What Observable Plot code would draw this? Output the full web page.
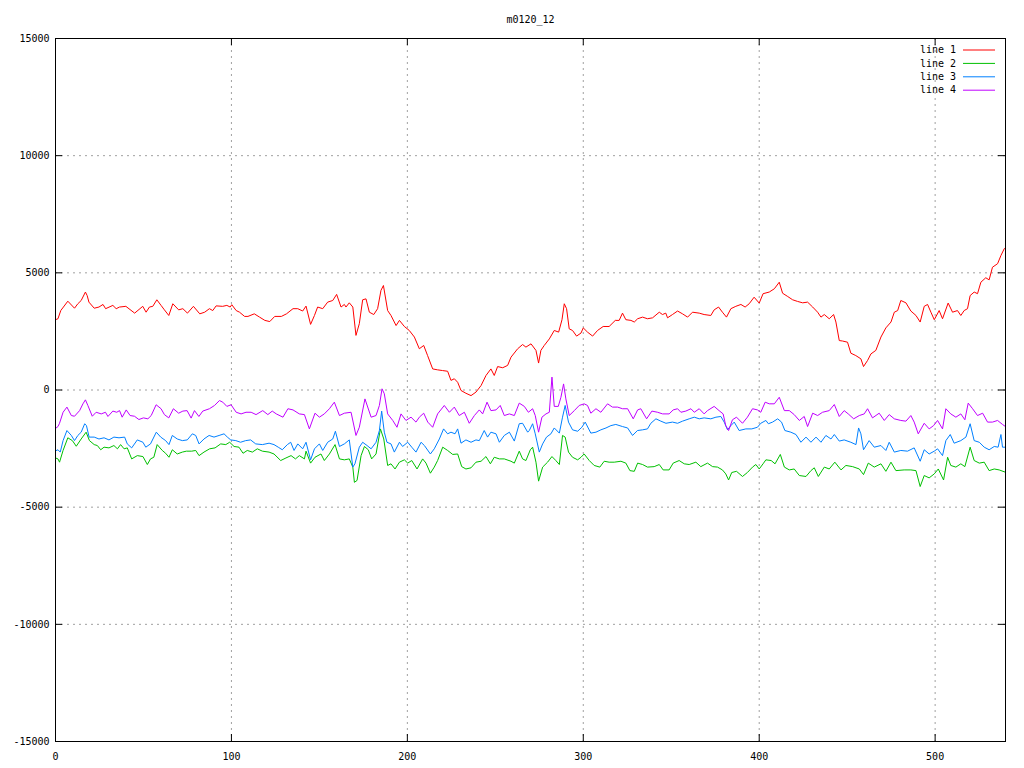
<!DOCTYPE html>
<html><head><meta charset="utf-8">
<script src="https://cdn.jsdelivr.net/npm/d3@7"></script>
<script src="https://cdn.jsdelivr.net/npm/@observablehq/plot@0.6"></script>
<style>
body{margin:0;background:#fff}
#wrap{position:relative;width:1024px;height:768px;background:#fff}
#legend{position:absolute;left:0;top:0}
</style>
</head><body><div id="wrap"></div>
<script>
const title = "m0120_12";
const seriesNames = ["line 1","line 2","line 3","line 4"];
const seriesColors = ["#ff0000","#00c000","#0080ff","#c000ff"];
const xTicks = [0,100,200,300,400,500];
const yTicks = [-15000,-10000,-5000,0,5000,10000,15000];
const xDomain = [0,540];
const yDomain = [-15000,15000];

const line1 = [[0,3000],[1.4,3040],[3,3390],[7,3790],[10.8,3490],[12.7,3680],[14.6,3820],[17,4180],[18,4030],[19,3750],[22,3490],[24.7,3540],[27,3650],[28.5,3470],[32.6,3610],[34.5,3470],[36.4,3540],[40,3570],[45,3280],[49.6,3570],[51.5,3320],[53.4,3540],[55.3,3570],[57.6,3850],[60,3610],[61.9,3420],[64.4,3180],[66.7,3680],[70,3420],[72.4,3470],[75,3280],[78.4,3570],[82,3250],[84.8,3320],[87.5,3470],[89.4,3390],[91.3,3590],[95,3570],[97.4,3610],[99.3,3540],[100.2,3640],[102.7,3390],[104.6,3320],[107.5,3140],[109.4,3140],[113,3250],[116,3110],[119,2970],[121.8,2920],[124.6,3140],[128.4,3140],[131.3,3250],[135,3470],[137.7,3470],[140.5,3370],[142.4,3580],[145,2800],[147.2,3180],[149,3540],[151.9,3470],[154.7,3750],[157.6,3820],[159.8,4080],[162.3,3540],[164.2,3650],[165.1,3540],[167,3720],[169,3540],[170.8,2330],[172.7,2830],[174.6,3850],[176.5,3890],[178.4,3320],[180.9,3220],[183.1,3470],[185,4250],[186.4,4460],[188.8,3390],[190.7,3180],[193.6,2750],[195.5,2970],[198.3,2710],[201.1,2540],[204,2260],[206.8,1760],[209.3,1900],[211.5,1470],[214.4,900],[217.2,860],[220,830],[222.9,800],[224.8,410],[226.7,480],[228.6,330],[230.5,-20],[233.3,-140],[236.2,-240],[239,-90],[241.9,190],[244.7,620],[247.5,900],[249.4,620],[251.3,1000],[254.2,950],[257,1050],[258.9,1400],[262.7,1760],[265.5,1940],[267.4,1830],[270.3,1970],[273.1,1690],[274.6,1150],[275.9,1690],[277.8,1900],[280.7,2180],[283.5,2540],[286,2470],[287.9,3000],[289.2,3680],[290.5,3470],[292,2610],[293.9,2540],[296.2,2300],[298.7,2430],[300,2650],[302.4,2470],[305.3,2300],[308.1,2540],[311.3,2710],[314.7,2710],[318.2,2970],[320.4,2970],[322.3,3280],[324.2,3000],[327.1,2970],[329,2900],[330.9,3040],[333.7,3110],[336.5,3040],[339.4,3080],[343.2,3320],[345,3220],[346.9,3280],[347.9,3080],[350.7,3220],[353.6,3370],[356.4,3250],[359.3,3110],[362.1,3320],[365.9,3280],[368.7,3220],[372.5,3180],[374.4,3420],[376.9,3540],[379.1,3320],[381.4,3110],[383.9,3470],[386.7,3570],[389.6,3650],[392,3540],[394.3,3680],[397.1,3960],[400,3710],[402.2,4110],[405.7,4180],[408.6,4320],[411.4,4600],[413.3,4130],[416.2,3990],[419,3850],[421.8,3780],[424.7,3720],[427.5,3750],[430.4,3540],[433.2,3320],[435.1,3110],[437,3220],[439.8,3040],[442.3,3220],[443.6,2900],[445.5,2110],[447.4,2090],[450.2,2040],[452.1,1570],[454.9,1470],[457.8,1330],[459.3,1000],[461.6,1260],[463.5,1540],[466.3,1690],[469.2,2260],[472,2650],[474.9,2900],[476.8,3320],[478.7,3390],[480.5,3820],[483.4,3720],[486.2,3370],[489.1,3180],[491.5,2900],[493.8,3570],[495.7,3650],[497.6,3320],[499.5,3000],[502.3,3390],[504.2,3040],[507.4,3710],[509.9,3320],[512.7,3390],[514.6,3180],[516.5,3390],[518.4,3470],[519.9,4030],[522.2,4180],[524.1,4110],[526,4600],[528.8,4790],[530.7,4700],[532.6,5240],[535.5,5390],[537.4,5740],[539.3,6030],[540,6080]];

const line2 = [[0,-2900],[1.4,-2940],[2.3,-3080],[4.3,-2580],[7,-2040],[9.6,-2160],[11.8,-2400],[14.6,-2090],[17.4,-1800],[19.3,-2160],[22,-2330],[23.8,-2370],[25.7,-2550],[27.6,-2440],[30.4,-2470],[33.2,-2370],[35.2,-2510],[37,-2330],[39,-2510],[40.8,-2470],[43.3,-2940],[46.5,-2800],[49.7,-2840],[52.2,-3180],[54,-2940],[55.9,-2870],[57.8,-2330],[60.7,-2580],[62.6,-2700],[64.5,-2870],[66.4,-2550],[69.2,-2730],[72.1,-2650],[74.4,-2610],[77.4,-2610],[79.7,-2580],[81.6,-2800],[84.4,-2650],[87.6,-2510],[90.7,-2470],[93.9,-2300],[96.8,-2330],[99,-2230],[101.5,-2410],[104.3,-2440],[106.6,-2700],[109,-2580],[111.9,-2650],[114.7,-2510],[117.6,-2610],[121.4,-2650],[124.2,-2730],[128,-3010],[131,-2900],[133.9,-2800],[136.4,-2940],[138.6,-2800],[141.5,-2940],[142.4,-2610],[145,-3120],[147.5,-2870],[150.9,-2730],[152.8,-3010],[155.7,-2730],[158.9,-2330],[161.4,-2940],[164.2,-2980],[167,-2940],[169,-3290],[169.9,-3940],[171.4,-3860],[173.7,-2800],[175.6,-2410],[177.8,-2550],[179.7,-2940],[182.2,-2730],[184.7,-1660],[186.6,-2090],[188.8,-3220],[190.7,-3150],[193,-3370],[195.5,-3080],[198.3,-2980],[200.2,-3120],[202.5,-3010],[205.5,-3370],[208.7,-2940],[210.6,-3120],[213.1,-3550],[215.3,-3290],[217.2,-3010],[220.1,-2440],[222.9,-2580],[225.8,-2750],[228.6,-2730],[230.9,-3270],[233.3,-3370],[236.2,-3320],[239,-3080],[241.9,-3040],[244.7,-2840],[247.2,-3150],[249.4,-2870],[252.3,-2940],[255.1,-2940],[258.9,-3040],[260.8,-3120],[263.6,-2610],[265.5,-2940],[267.4,-3010],[269.9,-2550],[271.2,-2440],[273.1,-3080],[274.6,-3890],[276.9,-3290],[279.7,-3080],[282.2,-2840],[284.4,-3010],[286.4,-3180],[288.2,-1940],[289.7,-2010],[291.6,-2650],[293.9,-2870],[296.8,-2980],[298.7,-2870],[300.5,-2730],[303.4,-3010],[306.2,-3220],[309.4,-3290],[311.9,-3040],[314.7,-3080],[317.6,-3080],[321.4,-3040],[324.2,-3120],[326.5,-3440],[329,-3470],[330.9,-3120],[333.7,-3180],[336.5,-3290],[340.3,-3270],[343.2,-3180],[345.4,-3410],[348.8,-3410],[351.1,-3120],[354.5,-3010],[357.4,-3150],[360.2,-3180],[364,-3080],[366.8,-3270],[370.6,-3120],[373.5,-3270],[376.3,-3290],[379.1,-3410],[381,-3580],[382.6,-3840],[384.4,-3520],[387.1,-3470],[390.5,-3690],[393.3,-3520],[396.2,-3290],[398.1,-3180],[400,-3370],[402.2,-3150],[403.8,-2980],[406.8,-3010],[409,-3150],[412,-2750],[414.3,-3290],[417.1,-3410],[419.9,-3370],[422.8,-3650],[426.6,-3690],[429.4,-3440],[431.3,-3320],[433.6,-3690],[437,-3290],[439.8,-3370],[443,-3080],[446.5,-3410],[449.3,-3220],[453.1,-3270],[456.9,-3370],[459.3,-3610],[462,-3120],[465.4,-3290],[469.2,-3150],[472,-3470],[474.9,-3080],[477.7,-3440],[482.4,-3410],[486.2,-3410],[489.1,-3440],[491.5,-4120],[493.8,-3650],[496.6,-3750],[499.5,-3580],[501.8,-3370],[504.8,-3840],[507.1,-2870],[508.9,-3220],[511.8,-3290],[514.6,-3150],[516.9,-3270],[519.9,-2440],[522.2,-3010],[525.1,-3120],[527.9,-3080],[530.7,-3440],[533.6,-3370],[536.4,-3410],[540,-3510]];

const line3 = [[0,-2600],[1.4,-2550],[2.7,-2650],[4.3,-2160],[6.5,-1730],[9,-1940],[10.8,-2160],[12.7,-1940],[14.6,-1800],[16.6,-1440],[17.6,-1520],[19.1,-2010],[22,-2010],[24.7,-2090],[27.6,-2040],[30.4,-2130],[33.2,-2010],[36.1,-2040],[39.3,-2010],[40.8,-2300],[43.3,-2470],[46.5,-2130],[49.7,-2230],[51.3,-2440],[54,-2300],[57.3,-1800],[59.8,-2010],[62.6,-2160],[64.5,-2330],[66.4,-1940],[69.2,-2090],[72.1,-2160],[74.9,-2130],[77.8,-1870],[79.7,-1940],[81.6,-2300],[84.4,-2090],[87.3,-1940],[90.1,-2010],[93,-1940],[95.8,-1870],[97.7,-2010],[99.6,-2130],[102.5,-2160],[105.2,-2230],[108.1,-2160],[110.9,-2130],[113.8,-2300],[117.6,-2330],[121.4,-2270],[124.2,-2330],[126.6,-2440],[128.9,-2550],[131.8,-2330],[133.7,-2230],[135.6,-2580],[137.7,-2300],[140.5,-2510],[142.4,-2230],[145,-2980],[147.2,-2510],[150,-2300],[151.9,-2580],[154.7,-2230],[157.6,-2090],[159.1,-1760],[161.4,-2410],[164.2,-2300],[167,-2130],[169,-3290],[170.2,-3150],[172.7,-2440],[174.6,-2230],[177.1,-2370],[179.4,-2510],[182.2,-2230],[184.1,-1730],[185.4,-900],[186.9,-1800],[188.4,-2230],[190.7,-2300],[192.6,-2650],[195.5,-2230],[197.3,-2410],[200.2,-2230],[202.5,-2440],[204.9,-2650],[207.8,-2230],[209.7,-2370],[213.1,-2730],[215.3,-2510],[218.2,-2090],[220.6,-1660],[222.9,-1870],[224.8,-1800],[227.1,-1870],[228.6,-1660],[230.5,-2270],[233.3,-2130],[236.2,-2230],[239,-2130],[240.9,-2160],[243.7,-1730],[245.6,-2010],[247.5,-1800],[250.4,-1870],[252.3,-2230],[255.1,-1940],[258,-1800],[260.8,-2180],[263.6,-1440],[265.5,-1420],[268.4,-1800],[269.3,-1730],[271.2,-1440],[272.7,-1870],[275,-2650],[276.9,-2300],[279.1,-2010],[281.6,-1870],[283.5,-1620],[286.4,-1840],[288.2,-1160],[289.7,-660],[291.6,-1370],[293.9,-1700],[296.8,-1760],[299.2,-1590],[301.1,-1370],[304.3,-1840],[307.2,-1800],[310,-1700],[312.9,-1620],[315.7,-1520],[318.5,-1470],[322.3,-1560],[325.2,-1620],[328,-1940],[330.8,-1730],[333.7,-1700],[336.5,-1660],[338.4,-1420],[341.3,-1230],[344.1,-1330],[347,-1420],[350.7,-1370],[353.6,-1420],[356.4,-1330],[360.2,-1230],[363.1,-1160],[365.9,-1230],[368.7,-1190],[372.5,-1230],[375.4,-1160],[378.2,-1130],[380.1,-1370],[382,-1700],[383.9,-1520],[385.8,-1370],[388.6,-1730],[392.4,-1660],[395.8,-1660],[399,-1590],[400.9,-1420],[403.8,-1300],[405.2,-1440],[407.6,-1370],[410.5,-1230],[412.7,-1370],[414.6,-1730],[418,-1800],[420.9,-1900],[423.7,-2230],[426.6,-2010],[429.4,-2230],[432.3,-2010],[435.1,-2230],[437.9,-1940],[440.8,-2090],[442.7,-1900],[445.5,-2180],[448.3,-2130],[452.1,-2230],[455,-2330],[456.5,-1620],[457.8,-1870],[459.3,-2550],[462.5,-2160],[465.4,-2440],[469.2,-2370],[472,-2580],[473.9,-2230],[476.8,-2650],[480.5,-2580],[484.3,-2610],[488.1,-2470],[491.5,-3040],[493.8,-2550],[496.6,-2730],[499.5,-2610],[501.4,-2510],[504.2,-2800],[506.1,-2160],[508.6,-1900],[510.8,-2270],[514.6,-2160],[517.5,-2010],[519.9,-1440],[522.2,-2160],[525.1,-2230],[527.9,-2440],[530.7,-2550],[533.6,-2410],[535.8,-2440],[537.4,-1900],[538.3,-2440],[540,-2440]];

const line4 = [[0,-1640],[1.4,-1560],[2.3,-1420],[4.3,-950],[6.5,-730],[9,-1090],[10.8,-1120],[13.7,-880],[15.6,-590],[17,-420],[18.4,-660],[20.9,-1120],[23.1,-950],[26,-1020],[28.4,-950],[29.8,-1130],[32.6,-900],[34.8,-950],[36.4,-880],[37.9,-1160],[40.2,-850],[42.4,-1090],[44.9,-1120],[47.4,-1260],[50,-1190],[52.5,-1230],[54.4,-1090],[57.2,-630],[60,-800],[61.9,-1050],[64.4,-1190],[67,-800],[70,-990],[72.4,-900],[74.8,-880],[77.1,-1200],[79,-880],[81.5,-1130],[83.7,-900],[87.5,-800],[90.4,-660],[93.2,-450],[95.1,-520],[97.4,-700],[99.8,-630],[102.7,-950],[105.5,-1020],[108.3,-950],[111.2,-950],[114,-1050],[117.8,-880],[120.7,-1050],[123.2,-900],[125.5,-1020],[129.3,-1160],[132.1,-800],[135,-850],[138.6,-1020],[141.5,-1050],[144.3,-1660],[147.5,-990],[150,-1160],[152.8,-1020],[155.7,-800],[158.5,-520],[161.4,-1090],[164.2,-990],[168,-950],[170.8,-1940],[172.7,-1590],[175.9,-380],[179.4,-1160],[182.2,-1090],[184.1,-660],[185.6,50],[186.9,-160],[188.8,-1020],[191.7,-1300],[194.1,-1590],[196.4,-1020],[199.2,-1300],[202.1,-1160],[204.9,-1370],[206.8,-1160],[209.3,-990],[211.6,-1370],[214.4,-1590],[217.2,-1020],[221,-660],[223.9,-950],[226.7,-730],[229.5,-1090],[232.4,-950],[235.2,-1420],[238.1,-1090],[240.9,-850],[242.8,-1020],[245.3,-520],[247.5,-880],[250.4,-850],[252.8,-660],[255.1,-1090],[258,-1020],[260.8,-1090],[263.6,-560],[266.5,-700],[268.8,-950],[271.2,-800],[272.7,-1090],[274.6,-1800],[276.5,-1160],[278.8,-1020],[280.7,-950],[282.2,550],[283.5,-700],[285.8,-700],[287.3,-310],[288.8,260],[290.1,-380],[292,-1090],[294.9,-880],[297.7,-660],[300.5,-590],[302.4,-660],[304.3,-990],[307.2,-800],[310,-950],[313.8,-590],[316.6,-730],[319.5,-730],[322.3,-800],[325.2,-800],[328.4,-1230],[330.9,-850],[332.7,-800],[336,-1230],[339,-900],[342.2,-950],[345.1,-1020],[348.8,-1020],[351.1,-850],[353.6,-800],[355.5,-950],[358.3,-900],[361.2,-800],[363.1,-950],[365.9,-800],[368.7,-1020],[370.6,-880],[374.4,-700],[377.2,-880],[379.5,-1020],[381,-1520],[382.6,-1730],[384.8,-1270],[387.1,-1160],[390.5,-1420],[393.3,-1160],[396.2,-800],[399,-850],[400.9,-950],[403.4,-520],[405.7,-590],[408.6,-590],[411.4,-310],[414.3,-880],[417.1,-880],[419.9,-1050],[422.8,-1300],[425.6,-1130],[427.5,-1560],[430.4,-990],[433.2,-1090],[436,-950],[439.8,-880],[442.7,-620],[445.5,-1130],[448.3,-880],[450.6,-1020],[453.7,-1230],[456.9,-1090],[459.7,-1020],[461.6,-800],[464.4,-1190],[468.2,-990],[471.1,-1300],[473.9,-1050],[476.8,-1230],[480.5,-1300],[483.4,-1330],[486.2,-1090],[488.1,-1370],[490.4,-1870],[493.8,-1420],[496.6,-1660],[499.1,-1520],[501.4,-1300],[504.2,-1660],[506.1,-800],[508.9,-1020],[511.8,-1160],[514.6,-1020],[516.9,-1270],[518.8,-560],[521.3,-800],[524.1,-1090],[527,-990],[529.8,-1370],[532.6,-1370],[535.5,-1300],[538.3,-1470],[540,-1560]];

const allSeries = [line1, line2, line3, line4];
const data = allSeries.flatMap((arr, i) => arr.map(([x, y]) => ({x, y, s: seriesNames[i]})));

const font = "'DejaVu Sans Mono', monospace";
const M = {left: 55, right: 19, top: 38, bottom: 27};
const W = 1024, H = 768;
const innerW = W - M.left - M.right;
const innerH = H - M.top - M.bottom;
const tickLen = 7;

const chart = Plot.plot({
  width: W, height: H,
  marginLeft: M.left, marginRight: M.right, marginTop: M.top, marginBottom: M.bottom,
  style: {fontFamily: font, fontSize: "10px", background: "white", color: "black"},
  x: {domain: xDomain, label: null},
  y: {domain: yDomain, label: null},
  color: {domain: seriesNames, range: seriesColors},
  marks: [
    Plot.ruleX(xTicks.slice(1), {stroke: "#a0a0a0", strokeDasharray: "2,4", strokeWidth: 1}),
    Plot.ruleY(yTicks.slice(1, -1), {stroke: "#a0a0a0", strokeDasharray: "2,4", strokeWidth: 1}),
    // inward tick marks on all four borders
    Plot.tickX(xTicks, {x: d => d, insetTop: innerH - tickLen, stroke: "black"}),
    Plot.tickX(xTicks, {x: d => d, insetBottom: innerH - tickLen, stroke: "black"}),
    Plot.tickY(yTicks, {y: d => d, insetRight: innerW - tickLen, stroke: "black"}),
    Plot.tickY(yTicks, {y: d => d, insetLeft: innerW - tickLen, stroke: "black"}),
    Plot.line(data, {x: "x", y: "y", stroke: "s", strokeWidth: 1}),
    Plot.frame({stroke: "black", strokeWidth: 1}),
    Plot.axisX(xTicks, {anchor: "bottom", tickSize: 0, tickPadding: 11, tickFormat: d => String(d), fontSize: 10, label: null}),
    Plot.axisY(yTicks, {anchor: "left", tickSize: 0, tickPadding: 6, tickFormat: d => String(d), fontSize: 10, label: null}),
    Plot.text([title], {frameAnchor: "top", dy: -19, fontSize: 10, lineAnchor: "middle"})
  ]
});
const wrap = document.getElementById("wrap");
wrap.appendChild(chart);

// legend overlay (top-right inside the frame)
const leg = d3.select(wrap).append("svg").attr("id", "legend")
  .attr("width", W).attr("height", H)
  .style("font-family", font).style("font-size", "10px");
const textRight = W - M.right - 49;
const g = leg.selectAll("g").data(seriesNames).join("g")
  .attr("transform", (d, i) => `translate(0,${M.top + 12 + i * 13.4})`);
g.append("text").attr("x", textRight).attr("text-anchor", "end").attr("dy", "0.32em").text(d => d);
g.append("line").attr("x1", textRight + 7).attr("x2", textRight + 39)
  .attr("stroke", (d, i) => seriesColors[i]).attr("stroke-width", 1);
</script>
</body></html>
